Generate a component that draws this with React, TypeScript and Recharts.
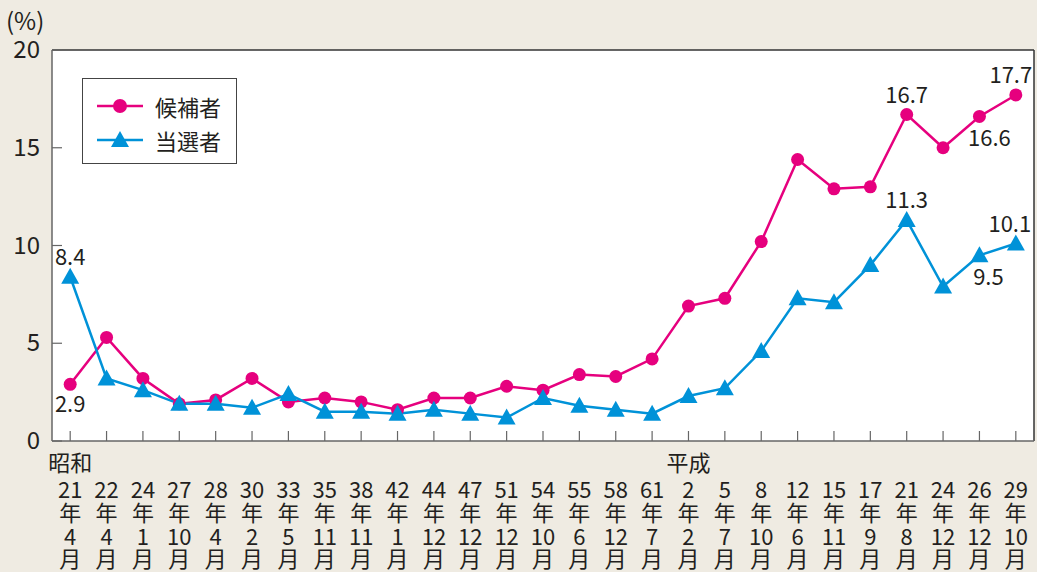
import React from 'react';
import {
  LineChart,
  Line,
  XAxis,
  YAxis,
  CartesianGrid,
  LabelList,
} from 'recharts';

// 選挙の回（年・月）
const years = ['21', '22', '24', '27', '28', '30', '33', '35', '38', '42', '44', '47', '51', '54', '55', '58', '61', '2', '5', '8', '12', '15', '17', '21', '24', '26', '29'];
const months = ['4', '4', '1', '10', '4', '2', '5', '11', '11', '1', '12', '12', '12', '10', '6', '12', '7', '2', '7', '10', '6', '11', '9', '8', '12', '12', '10'];
const eras: Record<number, string> = { 0: '昭和', 17: '平成' };

// 女性の割合（%）
const candidates = [2.9, 5.3, 3.2, 1.9, 2.1, 3.2, 2.0, 2.2, 2.0, 1.6, 2.2, 2.2, 2.8, 2.6, 3.4, 3.3, 4.2, 6.9, 7.3, 10.2, 14.4, 12.9, 13.0, 16.7, 15.0, 16.6, 17.7];
const elected = [8.4, 3.2, 2.6, 1.9, 1.9, 1.7, 2.4, 1.5, 1.5, 1.4, 1.6, 1.4, 1.2, 2.2, 1.8, 1.6, 1.4, 2.3, 2.7, 4.6, 7.3, 7.1, 9.0, 11.3, 7.9, 9.5, 10.1];

const yTicks = [0, 5, 10, 15, 20];

const PINK = '#E6007E';
const BLUE = '#0092D8';
const TEXT = '#231F20';
const FONT = '"Noto Sans CJK JP", "Noto Sans", sans-serif';

const data = years.map((y, i) => ({
  key: `${i}`,
  year: y,
  month: months[i],
  candidates: candidates[i],
  elected: elected[i],
}));

// which points carry a value label, and where it sits relative to the point
const candLabels: Record<number, [number, number]> = { 0: [0, 28], 23: [0, -12], 25: [10, 30], 26: [-5, -12] };
const electLabels: Record<number, [number, number]> = { 0: [0, -12], 23: [0, -12], 25: [9, 30], 26: [-6, -12] };

const makeLabel = (place: Record<number, [number, number]>) => (props: any) => {
  const { x, y, value, index } = props;
  const p = place[index];
  if (!p) return null;
  return (
    <text x={x + p[0]} y={y + p[1]} textAnchor="middle" fontSize={22} fill={TEXT} fontFamily={FONT}>
      {value.toFixed(1)}
    </text>
  );
};

const XTick = (props: any) => {
  const { x, y, index } = props;
  const d = data[index];
  return (
    <g>
      <line x1={x} y1={y} x2={x} y2={y - 10} stroke="#666" strokeWidth={1.2} />
      <g fontSize={22} fill={TEXT} fontFamily={FONT} textAnchor="middle">
        {eras[index] && <text x={x} y={y + 30}>{eras[index]}</text>}
        <text x={x} y={y + 57}>{d.year}</text>
        <text x={x} y={y + 80}>年</text>
        <text x={x} y={y + 104}>{d.month}</text>
        <text x={x} y={y + 126}>月</text>
      </g>
    </g>
  );
};

const YTick = (props: any) => {
  const { x, y, payload } = props;
  return (
    <g>
      <line x1={x} y1={y} x2={x + 10} y2={y} stroke="#666" strokeWidth={1.2} />
      <text x={x - 12} y={y + 8} textAnchor="end" fontSize={24} fill={TEXT} fontFamily={FONT}>
        {payload.value}
      </text>
    </g>
  );
};

const Triangle = (props: any) => {
  const { cx, cy } = props;
  if (cx == null || cy == null) return null;
  return <polygon points={`${cx},${cy - 9} ${cx + 9},${cy + 7} ${cx - 9},${cy + 7}`} fill={BLUE} />;
};

const legendItems = [
  { name: '候補者', color: PINK, tri: false },
  { name: '当選者', color: BLUE, tri: true },
];

const LegendBox = () => (
  <div
    style={{
      position: 'absolute',
      left: 82,
      top: 78,
      width: 153,
      height: 84,
      border: '1px solid #444',
      background: '#fff',
      fontFamily: FONT,
      fontSize: 22,
      color: TEXT,
    }}
  >
    {legendItems.map((it, i) => (
      <div key={it.name} style={{ position: 'absolute', left: 14, top: 12 + i * 34, display: 'flex', alignItems: 'center', height: 30 }}>
        <svg width={46} height={30}>
          <line x1={0} y1={15} x2={46} y2={15} stroke={it.color} strokeWidth={2.5} />
          {it.tri ? (
            <polygon points="23,6 32,22 14,22" fill={it.color} />
          ) : (
            <circle cx={23} cy={15} r={7} fill={it.color} />
          )}
        </svg>
        <span style={{ marginLeft: 12, lineHeight: '30px', whiteSpace: 'nowrap' }}>{it.name}</span>
      </div>
    ))}
  </div>
);

const App: React.FC = () => {
  return (
    <div style={{ width: 1037, height: 572, background: '#EFEBE2', position: 'relative', overflow: 'hidden' }}>
      <style>{'body{margin:0}'}</style>
      <div style={{ position: 'absolute', left: 6, top: 2, fontSize: 24, color: TEXT, fontFamily: FONT }}>(%)</div>
      <LineChart
        width={1037}
        height={572}
        data={data}
        margin={{ top: 50, right: 3, left: 0, bottom: 0 }}
      >
        <CartesianGrid
          fill="#fff"
          stroke="#333"
          strokeWidth={1.5}
          horizontalCoordinatesGenerator={({ offset }: any) => [offset.top]}
          verticalCoordinatesGenerator={({ offset }: any) => [offset.left + offset.width]}
        />
        <XAxis
          dataKey="key"
          scale="band"
          height={131}
          axisLine={{ stroke: '#666', strokeWidth: 1.5 }}
          tickLine={false}
          tickSize={0}
          tickMargin={0}
          interval={0}
          tick={<XTick />}
        />
        <YAxis
          domain={[0, 20]}
          ticks={yTicks}
          width={52}
          axisLine={{ stroke: '#666', strokeWidth: 1.5 }}
          tickLine={false}
          tickSize={0}
          tickMargin={0}
          tick={<YTick />}
        />
        <Line
          type="linear"
          dataKey="candidates"
          stroke={PINK}
          strokeWidth={2.5}
          dot={{ r: 6.5, fill: PINK, stroke: PINK, strokeWidth: 0 }}
          activeDot={false}
          isAnimationActive={false}
        >
          <LabelList dataKey="candidates" content={makeLabel(candLabels)} />
        </Line>
        <Line
          type="linear"
          dataKey="elected"
          stroke={BLUE}
          strokeWidth={2.5}
          dot={<Triangle />}
          activeDot={false}
          isAnimationActive={false}
        >
          <LabelList dataKey="elected" content={makeLabel(electLabels)} />
        </Line>
      </LineChart>
      <LegendBox />
    </div>
  );
};

export default App;
